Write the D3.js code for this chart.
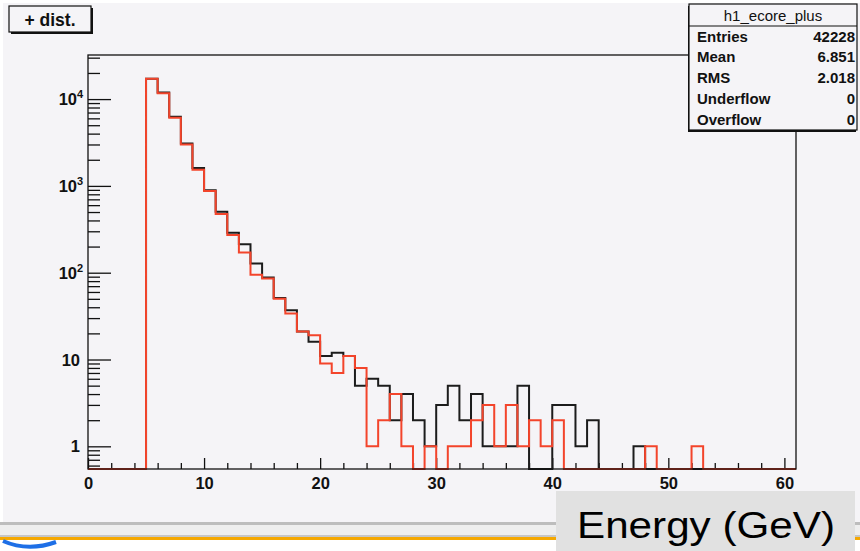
<!DOCTYPE html>
<html>
<head>
<meta charset="utf-8">
<script src="https://cdnjs.cloudflare.com/ajax/libs/d3/7.8.5/d3.min.js"></script>
<style>
  body { margin: 0; background: #fff; }
  svg { display: block; font-family: "Liberation Sans", Arial, sans-serif; }
</style>
</head>
<body>
<div id="chart"></div>
<script>
// Data: counts per 1 GeV bin, bins 0..60
var binEdges = d3.range(0, 62);
var blackCounts = [0, 0, 0, 0, 0, 17100, 11900, 6250, 3070, 1610,
    890, 504, 288, 213, 128, 88, 51, 37, 21, 16,
    11, 12, 11, 5, 6, 5, 2, 4, 2, 1,
    3, 5, 2, 4, 1, 1, 1, 5, 0, 0,
    3, 3, 1, 2, 0, 0, 0, 1, 0, 0,
    0, 0, 0, 0, 0, 0, 0, 0, 0, 0, 0];
var redCounts = [0, 0, 0, 0, 0, 17100, 11700, 6100, 3000, 1530,
    873, 474, 271, 171, 95, 86, 50, 34, 21, 19,
    9, 7, 11, 8, 1, 2, 4, 1, 0, 1,
    0, 1, 1, 2, 3, 1, 3, 1, 2, 1,
    2, 0, 0, 0, 0, 0, 0, 0, 1, 0,
    0, 0, 1, 0, 0, 0, 0, 0, 0, 0, 0];

var xMajor = [0, 10, 20, 30, 40, 50, 60];
var xMinor = d3.range(2, 61, 2);
var yMajor = [1, 10, 100, 1000, 10000];
var yLabels = [["1", ""], ["10", ""], ["10", "2"], ["10", "3"], ["10", "4"]];

var statsTitle = "h1_ecore_plus";
var statsNames = ["Entries", "Mean", "RMS", "Underflow", "Overflow"];
var statsValues = ["42228", "6.851", "2.018", "0", "0"];

// Setup
var W = 860, H = 551;
var frame = {left: 88, right: 796, top: 55, bottom: 469};

var svg = d3.select("#chart").append("svg")
    .attr("width", W)
    .attr("height", H);

// canvas background + bottom slide decoration
svg.append("rect").attr("x", 0).attr("y", 0).attr("width", W).attr("height", H).attr("fill", "#fff");
svg.append("rect").attr("x", 3).attr("y", 3).attr("width", W - 3).attr("height", 519).attr("fill", "#f5f4f7");
svg.append("rect").attr("x", 0).attr("y", 522).attr("width", W).attr("height", 3).attr("fill", "#bdbdbd");
svg.append("rect").attr("x", 0).attr("y", 525).attr("width", W).attr("height", 10).attr("fill", "#eeeeee");
svg.append("rect").attr("x", 0).attr("y", 535).attr("width", W).attr("height", 2).attr("fill", "#c6c6c6");
svg.append("rect").attr("x", 0).attr("y", 537).attr("width", W).attr("height", 3).attr("fill", "#f5a800");
svg.append("path")
    .attr("d", "M 3 541 Q 28 552 56 542")
    .attr("fill", "none").attr("stroke", "#1e6fe6").attr("stroke-width", 4);

// Scales
var x = d3.scaleLinear().domain([0, 61]).range([frame.left, frame.right]);
var y = d3.scaleLog().domain([0.548, 32200]).range([frame.bottom, frame.top]);

function yv(v) { return v > 0 ? y(v) : frame.bottom; }

// Axes
var axisXMajor = d3.axisBottom(x).tickValues(xMajor).tickSize(-11).tickPadding(8).tickFormat(d3.format("d"));
var axisXMinor = d3.axisBottom(x).tickValues(xMinor.filter(function(d){ return d % 10 !== 0; })).tickSize(-6).tickFormat("");

var yMinor = [];
[0.1, 1, 10, 100, 1000, 10000].forEach(function(dec){
    for (var m = 2; m <= 9; m++) {
        var v = dec * m;
        if (v >= 0.548 && v <= 32200) yMinor.push(v);
    }
});
var axisYMajor = d3.axisLeft(y).tickValues(yMajor).tickSize(-23).tickFormat("");
var axisYMinor = d3.axisLeft(y).tickValues(yMinor).tickSize(-12).tickFormat("");

function styleAxis(g) {
    g.select(".domain").remove();
    g.selectAll("line").attr("stroke", "#111").attr("stroke-width", 1.3);
}

svg.append("g").attr("transform", "translate(0," + frame.bottom + ")").call(axisXMinor).call(styleAxis);
var gx = svg.append("g").attr("transform", "translate(0," + frame.bottom + ")").call(axisXMajor).call(styleAxis);
gx.selectAll("text")
    .attr("fill", "#111")
    .attr("font-size", 16.5)
    .attr("font-weight", "bold")
    .attr("font-family", "'Liberation Sans', Arial, sans-serif");

svg.append("g").attr("transform", "translate(" + frame.left + ",0)").call(axisYMinor).call(styleAxis);
svg.append("g").attr("transform", "translate(" + frame.left + ",0)").call(axisYMajor).call(styleAxis);

// y labels with superscripts
svg.append("g").selectAll("text")
    .data(yMajor).enter().append("text")
    .attr("x", function(d, i){ return yLabels[i][1] ? 77 : 80; })
    .attr("y", function(d){ return y(d) + 6; })
    .attr("text-anchor", "end")
    .attr("font-size", 16.5)
    .attr("font-weight", "bold")
    .attr("fill", "#111")
    .text(function(d, i){ return yLabels[i][0]; });
svg.append("g").selectAll("text")
    .data(yMajor.filter(function(d, i){ return yLabels[i][1]; }))
    .enter().append("text")
    .attr("x", 77)
    .attr("y", function(d){ return y(d) - 1; })
    .attr("font-size", 11)
    .attr("font-weight", "bold")
    .attr("fill", "#111")
    .text(function(d){ return yLabels[yMajor.indexOf(d)][1]; });

// Histograms (step outlines)
var line = d3.line()
    .curve(d3.curveStepAfter)
    .x(function(d){ return x(d[0]); })
    .y(function(d){ return yv(d[1]); });

function histPoints(counts) {
    var pts = counts.map(function(c, i){ return [binEdges[i], c]; });
    pts.push([binEdges[counts.length], counts[counts.length - 1]]);
    return pts;
}

svg.append("path")
    .attr("d", line(histPoints(blackCounts)))
    .attr("fill", "none")
    .attr("stroke", "#1c1c1c")
    .attr("stroke-width", 2);

svg.append("path")
    .attr("d", line(histPoints(redCounts)))
    .attr("fill", "none")
    .attr("stroke", "#f3442b")
    .attr("stroke-width", 2);

// Frame
svg.append("rect")
    .attr("x", frame.left).attr("y", frame.top)
    .attr("width", frame.right - frame.left)
    .attr("height", frame.bottom - frame.top)
    .attr("fill", "none")
    .attr("stroke", "#111")
    .attr("stroke-width", 1.3);

// "+ dist." title box with shadow
svg.append("rect").attr("x", 11).attr("y", 8).attr("width", 82).attr("height", 26).attr("fill", "#111");
svg.append("rect").attr("x", 9).attr("y", 6).attr("width", 82).attr("height", 26)
    .attr("fill", "#f5f4f7").attr("stroke", "#111").attr("stroke-width", 1.2);
svg.append("text")
    .attr("x", 50).attr("y", 26)
    .attr("text-anchor", "middle")
    .attr("font-size", 17.5)
    .attr("font-weight", "bold")
    .attr("fill", "#111")
    .text("+ dist.");

// Stats box
var sb = {x: 689, y: 4, w: 168, h: 126};
svg.append("rect").attr("x", sb.x - 1).attr("y", sb.y + 2).attr("width", sb.w).attr("height", sb.h).attr("fill", "#111");
svg.append("rect").attr("x", sb.x).attr("y", sb.y).attr("width", sb.w).attr("height", sb.h)
    .attr("fill", "#f5f4f7").attr("stroke", "#111").attr("stroke-width", 1.2);
svg.append("line")
    .attr("x1", sb.x).attr("x2", sb.x + sb.w)
    .attr("y1", 26).attr("y2", 26)
    .attr("stroke", "#111").attr("stroke-width", 1.2);
svg.append("text")
    .attr("x", sb.x + sb.w / 2).attr("y", 21)
    .attr("text-anchor", "middle")
    .attr("font-size", 15)
    .attr("fill", "#111")
    .text(statsTitle);

var rows = svg.append("g").selectAll("g")
    .data(statsNames).enter().append("g")
    .attr("transform", function(d, i){ return "translate(0," + (41.5 + i * 20.9) + ")"; });
rows.append("text")
    .attr("x", sb.x + 8)
    .attr("font-size", 15)
    .attr("font-weight", "bold")
    .attr("fill", "#111")
    .text(function(d){ return d; });
rows.append("text")
    .attr("x", sb.x + sb.w - 2)
    .attr("text-anchor", "end")
    .attr("font-size", 15)
    .attr("font-weight", "bold")
    .attr("fill", "#111")
    .text(function(d, i){ return statsValues[i]; });

// "Energy (GeV)" label box
svg.append("rect").attr("x", 556).attr("y", 491).attr("width", 299).attr("height", 60).attr("fill", "#e1e1e1");
svg.append("text")
    .attr("x", 577).attr("y", 538)
    .attr("font-size", 37)
    .attr("textLength", 258)
    .attr("lengthAdjust", "spacingAndGlyphs")
    .attr("fill", "#000")
    .text("Energy (GeV)");
</script>
</body>
</html>
